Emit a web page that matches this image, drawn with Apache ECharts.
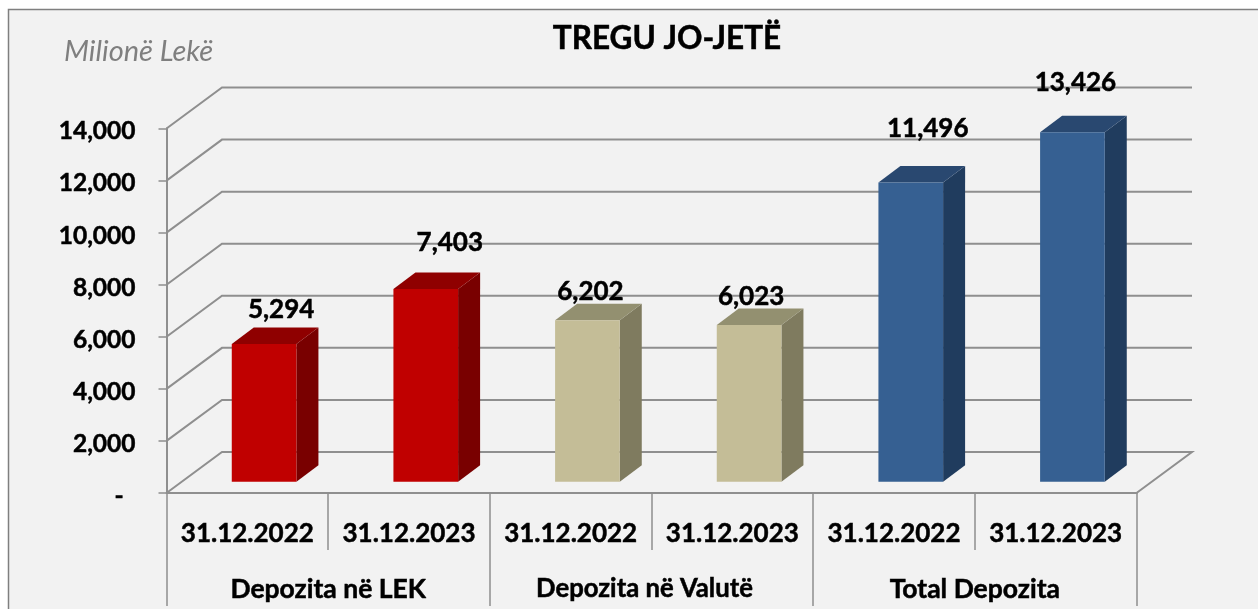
<!DOCTYPE html>
<html>
<head>
<meta charset="utf-8">
<style>html,body{margin:0;padding:0;background:#fff}#c{width:1258px;height:609px}</style>
<script src="https://cdn.jsdelivr.net/npm/echarts@6/dist/echarts.min.js"></script>
</head>
<body>
<div id="c"></div>
<script>
const dateLabels = ['31.12.2022','31.12.2023','31.12.2022','31.12.2023','31.12.2022','31.12.2023'];
const groupLabels = ['Depozita në LEK','Depozita në Valutë','Total Depozita'];
const depositValues = [5294,7403,6202,6023,11496,13426];
const tickValues = [0,2000,4000,6000,8000,10000,12000,14000];

const FONT = 'Lato';
const LINE = '#8f8f8f';
const HEAVY = {textBorderColor:'#000',textBorderWidth:0.5};
const wallDepth = [55.5,-41];
const barInset = 0.275;
const barShiftX = 1.5;
const barDepth = [22,-16.5];
const barPalette = [
  {front:'#c00000',top:'#8f0000',side:'#790000'},
  {front:'#c00000',top:'#8f0000',side:'#790000'},
  {front:'#c4bd97',top:'#939070',side:'#7f7b5f'},
  {front:'#c4bd97',top:'#939070',side:'#7f7b5f'},
  {front:'#366092',top:'#294870',side:'#203c5e'},
  {front:'#366092',top:'#294870',side:'#203c5e'}
];
const labelNudge = [[17,-18],[24,-30],[3,-12],[2,-12],[17,-37],[3,-33]];

function renderWall(params, api){
  const v = api.value(1);
  const cs = params.coordSys;
  const y = api.coord([0,v])[1];
  const x0 = cs.x, x1 = cs.x + cs.width;
  const bx0 = x0 + wallDepth[0], bx1 = x1 + wallDepth[0], by = y + wallDepth[1];
  const pts = [[x0,y],[bx0,by],[bx1,by]];
  if (v === 0) pts.push([x1,y]);
  return {type:'polyline',shape:{points:pts},style:{stroke:LINE,lineWidth:2,fill:null}};
}

function renderBar(params, api){
  const i = params.dataIndex;
  const p = barPalette[i];
  const c = api.coord([api.value(0),api.value(1)]);
  const c0 = api.coord([api.value(0),0]);
  const w = api.size([1,0])[0]*0.4;
  const dx = wallDepth[0]*barInset + barShiftX, dy = wallDepth[1]*barInset;
  const l = c[0]+dx-w/2, r = c[0]+dx+w/2, t = c[1]+dy, b = c0[1]+dy;
  const ddx = barDepth[0], ddy = barDepth[1];
  const n = labelNudge[i];
  const text = api.value(1).toLocaleString('en-US');
  return {type:'group',children:[
    {type:'polygon',shape:{points:[[r,t],[r+ddx,t+ddy],[r+ddx,b+ddy],[r,b]]},style:{fill:p.side}},
    {type:'polygon',shape:{points:[[l,t],[l+ddx,t+ddy],[r+ddx,t+ddy],[r,t]]},style:{fill:p.top}},
    {type:'rect',shape:{x:l,y:t,width:w,height:b-t},style:{fill:p.front}},
    {type:'text',z2:10,style:{text:text,x:c[0]+dx+n[0],y:t+ddy+n[1],align:'center',verticalAlign:'middle',
      fontFamily:FONT,fontWeight:'bold',fontSize:26,fill:'#000',stroke:'#000',lineWidth:0.5}}
  ]};
}

const chart = echarts.init(document.getElementById('c'),null,{renderer:'canvas'});
chart.setOption({
  animation:false,
  backgroundColor:'#ffffff',
  graphic:[{type:'rect',z:-10,silent:true,shape:{x:8.5,y:9.5,width:1400,height:800},
    style:{fill:'#f2f2f2',stroke:'#7f7f7f',lineWidth:1.5}}],
  title:[
    {text:'TREGU JO-JETË',left:662,top:18,textAlign:'center',
      textStyle:Object.assign({fontFamily:FONT,fontWeight:'bold',fontSize:31.5,color:'#000'},HEAVY)},
    {text:'Milionë Lekë',left:59,top:32,
      textStyle:{fontFamily:FONT,fontStyle:'italic',fontWeight:'normal',fontSize:29,color:'#7f7f7f'}}
  ],
  grid:{left:166.5,right:121.5,top:128.5,bottom:116,outerBoundsMode:'none'},
  xAxis:[
    {type:'category',data:dateLabels,position:'bottom',
      axisLine:{show:true,lineStyle:{color:LINE,width:2}},
      axisTick:{show:true,length:57,lineStyle:{color:LINE,width:1.5}},
      axisLabel:Object.assign({interval:0,margin:41,fontFamily:FONT,fontWeight:'bold',fontSize:26,color:'#000',verticalAlign:'middle'},HEAVY)},
    {type:'category',position:'bottom',
      data:groupLabels.map((g,i)=> i===1 ? {value:g,textStyle:{fontSize:25.7,padding:[0,14,0,0],verticalAlign:'middle'}} : g),
      axisLine:{show:false},
      axisTick:{show:true,length:113,lineStyle:{color:LINE,width:1.5}},
      axisLabel:Object.assign({interval:0,margin:96,fontFamily:FONT,fontWeight:'bold',fontSize:26.5,color:'#000',verticalAlign:'middle'},HEAVY)}
  ],
  yAxis:{type:'value',min:0,max:14000,interval:2000,
    axisLine:{show:true,lineStyle:{color:LINE,width:2}},
    axisTick:{show:true,length:8,lineStyle:{color:LINE,width:1.5}},
    splitLine:{show:false},
    axisLabel:Object.assign({margin:31,fontFamily:FONT,fontWeight:'bold',fontSize:24.5,color:'#000',verticalAlign:'top',lineHeight:6,
      formatter:function(v){return v===0?'-  ':v.toLocaleString('en-US');}},HEAVY)},
  series:[
    {type:'custom',name:'Wall',coordinateSystem:'cartesian2d',silent:true,z:1,clip:false,
      encode:{x:0,y:1},data:tickValues.map(v=>[0,v]),renderItem:renderWall},
    {type:'custom',name:'Depozita',coordinateSystem:'cartesian2d',z:2,clip:false,
      encode:{x:0,y:1},data:depositValues.map((v,i)=>[i,v]),renderItem:renderBar}
  ]
});
</script>
</body>
</html>
